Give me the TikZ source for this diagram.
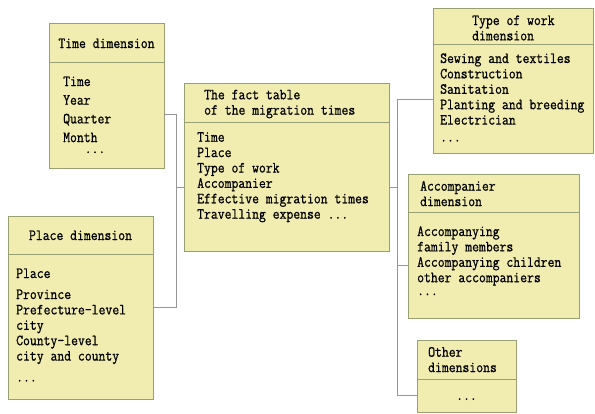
\documentclass[tikz,border=0pt]{standalone}
\usepackage{fontspec}
\setmainfont{Latin Modern Mono}[FakeStretch=0.86,FakeBold=0.8]
\usepackage{tikz}
\usetikzlibrary{positioning,calc}
\usepackage{xcolor}
\definecolor{boxfill}{RGB}{241,237,176}
\definecolor{boxedge}{RGB}{150,160,115}
\definecolor{linkgray}{RGB}{150,150,150}
\newcommand{\attrlist}[1]{\begin{tabular}[t]{@{}l@{}}#1\end{tabular}}

\begin{document}
\begin{tikzpicture}[x=1pt,y=-1pt,every node/.style={font=\fontsize{15.5}{15.4}\selectfont,inner sep=0pt},box/.style={draw=boxedge,fill=boxfill,line width=0.8pt,outer sep=0pt},rule/.style={draw=boxedge,line width=0.8pt},link/.style={draw=linkgray,line width=0.8pt},txt/.style={anchor=base west}]
\useasboundingbox (0,0) rectangle (595,413);
% dimension boxes and fact table
\node[box,minimum width=115pt,minimum height=145pt] (time) at (106.5,95.5) {};
\node[box,minimum width=145pt,minimum height=183pt] (place) at (80.5,307.5) {};
\node[box,minimum width=205pt,minimum height=168pt] (fact) at (286.5,167) {};
\node[box,minimum width=160pt,minimum height=145pt] (type) at (513,80.5) {};
\node[box,minimum width=171pt,minimum height=144pt] (acc) at (493.5,246) {};
\node[box,minimum width=99pt,minimum height=72pt] (other) at (466.5,376) {};
\draw[rule] (time.west |- 0,62) -- (time.east |- 0,62);
\draw[rule] (place.west |- 0,254) -- (place.east |- 0,254);
\draw[rule] (fact.west |- 0,122) -- (fact.east |- 0,122);
\draw[rule] (type.west |- 0,44) -- (type.east |- 0,44);
\draw[rule] (acc.west |- 0,212) -- (acc.east |- 0,212);
\draw[rule] (other.west |- 0,379) -- (other.east |- 0,379);
% headers
\node[anchor=base] (time-h) at (time.center |- 0,48) {Time dimension};
\node[anchor=base] (place-h) at (place.center |- 0,240) {Place dimension};
\node[txt] (fact-h) at (204,99.3) {\attrlist{The fact table\\of the migration times}};
\node[txt] (type-h) at (472,25) {\attrlist{Type of work\\dimension}};
\node[txt] (acc-h) at (420,190.7) {\attrlist{Accompanier\\dimension}};
\node[txt] (other-h) at (428,356.7) {\attrlist{Other\\dimensions}};
% attributes
\node[txt,font=\fontsize{15.5}{18.7}\selectfont] (time-b) at (63,86) {\attrlist{Time\\Year\\Quarter\\Month\\[-7.7pt]\hspace{21.5pt}...}};
\node[txt] (place-b) at (16,278) {\attrlist{Place\\[5.6pt]Province\\Prefecture-level\\city\\County-level\\city and county\\[5.6pt]...}};
\node[txt] (fact-b) at (197,141.7) {\attrlist{Time\\Place\\Type of work\\Accompanier\\Effective migration times\\Travelling expense ...}};
\node[txt] (type-b) at (440,63) {\attrlist{Sewing and textiles\\Construction\\Sanitation\\Planting and breeding\\Electrician\\[1.6pt]...}};
\node[txt] (acc-b) at (417,236) {\attrlist{Accompanying\\family members\\Accompanying children\\other accompaniers\\[-2.4pt]...}};
\node[anchor=base] (other-b) at (other.center |- 0,400) {...};
% connectors
\coordinate (jl) at (176,187);
\coordinate (jr) at (397,187);
\draw[link] (time.east |- 0,114) -| (jl |- 0,307) -- (place.east |- 0,307);
\draw[link] (jl) -- (fact.west |- jl);
\draw[link] (fact.east |- jr) -- (jr);
\draw[link] (type.west |- 0,99) -| (jr |- 0,395) -- (other.west |- 0,395);
\draw[link] (jr |- 0,265) -- (acc.west |- 0,265);
\end{tikzpicture}
\end{document}
